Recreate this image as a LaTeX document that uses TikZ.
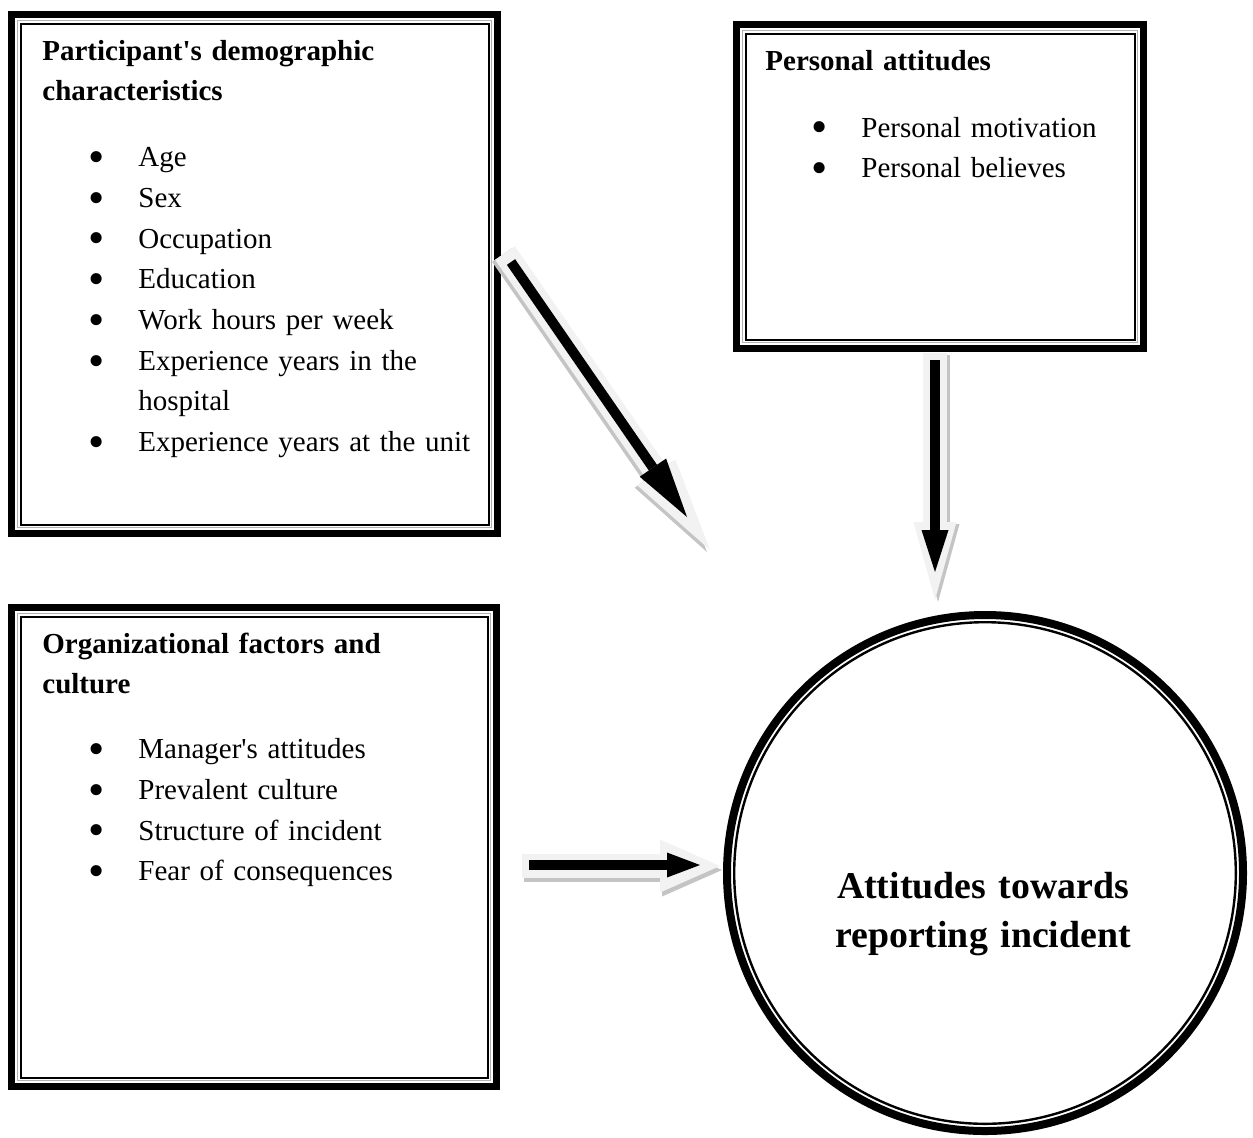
\documentclass[tikz,border=0pt]{standalone}
\usepackage{fontspec}
\setmainfont{Liberation Serif}
\usetikzlibrary{arrows.meta,positioning}
\definecolor{clair}{HTML}{F2F2F2}
\definecolor{ombre}{HTML}{C4C4C4}
\newcommand{\itm}{\hspace*{23pt}\makebox[25pt][l]{\raisebox{-2.9pt}{\scalebox{1.6}{\textbullet}}}}
\begin{document}
\begin{tikzpicture}[x=0.5pt, y=-0.5pt,
	facteur/.style={draw, line width=3.5pt, anchor=north west, inner sep=0pt, outer sep=0pt},
	liste/.style={anchor=base west, inner sep=0pt, align=left, text width=220pt, font=\fontsize{14.5pt}{20.35pt}\selectfont},
	titre/.style={anchor=base, inner sep=0pt, align=center, text width=200pt, font=\fontsize{18.9pt}{24.5pt}\selectfont\bfseries},
	grisfl/.style={draw=clair, line width=12pt},
	ombrefl/.style={draw=ombre, line width=12pt},
	noirfl/.style={draw=black, line width=5pt}]
	\useasboundingbox (0,0) rectangle (1253,1137);
	%Cadres des facteurs
	\node[facteur, minimum width=243pt, minimum height=259.5pt] (demo) at (11.5,14.5) {};
	\node[facteur, minimum width=203.5pt, minimum height=162pt] (pers) at (736.5,24.5) {};
	\node[facteur, minimum width=242.5pt, minimum height=239.5pt] (org) at (11.5,607.5) {};
	\foreach \b in {demo,pers,org}{
		\draw[gray!60, line width=0.65pt] ([shift={(6,6)}]\b.north west) rectangle ([shift={(-6,-6)}]\b.south east);
		\draw[line width=1pt] ([shift={(9,9)}]\b.north west) rectangle ([shift={(-9,-9)}]\b.south east);
	}
	%Cercle du résultat
	\node[draw, circle, line width=4pt, minimum size=258pt, inner sep=0pt] (att) at (985,873) {};
	\draw[line width=1.2pt] (att.center) circle[radius=125.4pt];
	%Textes
	\node[liste] (demotxt) at (42,60) {\textbf{Participant\textquotesingle s demographic}\\ \textbf{characteristics}\\[12.65pt]
		\itm Age\\ \itm Sex\\ \itm Occupation\\ \itm Education\\ \itm Work hours per week\\
		\itm Experience years in the\\ \hspace*{48pt}hospital\\ \itm Experience years at the unit};
	\node[liste] (perstxt) at (765,70) {\textbf{Personal attitudes}\\[13.15pt]
		\itm Personal motivation\\ \itm Personal believes};
	\node[liste] (orgtxt) at (42,653) {\textbf{Organizational factors and}\\ \textbf{culture}\\[12.15pt]
		\itm Manager\textquotesingle s attitudes\\ \itm Prevalent culture\\ \itm Structure of incident\\ \itm Fear of consequences};
	\node[titre] (attlbl) at (983,898) {Attitudes towards\\reporting incident};
	%Flèches
	\coordinate (d0) at (505,253);
	\coordinate (d1) at (710,550);
	\coordinate (e0) at (511,262);
	\coordinate (e1) at (687,517);
	\coordinate (v0) at (935,353);
	\coordinate (v1) at (935,600);
	\coordinate (w0) at (935,360);
	\coordinate (w1) at (935,572);
	\coordinate (h0) at (522,866);
	\coordinate (h1) at (720,866);
	\coordinate (k0) at (529,865);
	\coordinate (k1) at (700,865);
	\draw[ombrefl, -{Triangle[width=23pt,length=47pt,line width=0pt]}] ([shift={(-3,2)}]d0) -- ([shift={(-3,2)}]d1);
	\draw[grisfl, -{Triangle[width=23pt,length=47pt,line width=0pt]}] (d0) -- (d1);
	\draw[noirfl, -{Triangle[width=16pt,length=30pt,line width=0pt]}] (e0) -- (e1);
	\draw[ombrefl, -{Triangle[width=21.5pt,length=39pt,line width=0pt]}] ([shift={(3,2)}]v0) -- ([shift={(3,2)}]v1);
	\draw[grisfl, -{Triangle[width=21.5pt,length=39pt,line width=0pt]}] (v0) -- (v1);
	\draw[noirfl, -{Triangle[width=13.5pt,length=21pt,line width=0pt]}] (w0) -- (w1);
	\draw[ombrefl, -{Triangle[width=26.5pt,length=30pt,line width=0pt]}] ([shift={(2,4)}]h0) -- ([shift={(2,4)}]h1);
	\draw[grisfl, -{Triangle[width=26.5pt,length=30pt,line width=0pt]}] (h0) -- (h1);
	\draw[noirfl, -{Triangle[width=12.5pt,length=16.5pt,line width=0pt]}] (k0) -- (k1);
\end{tikzpicture}
\end{document}
